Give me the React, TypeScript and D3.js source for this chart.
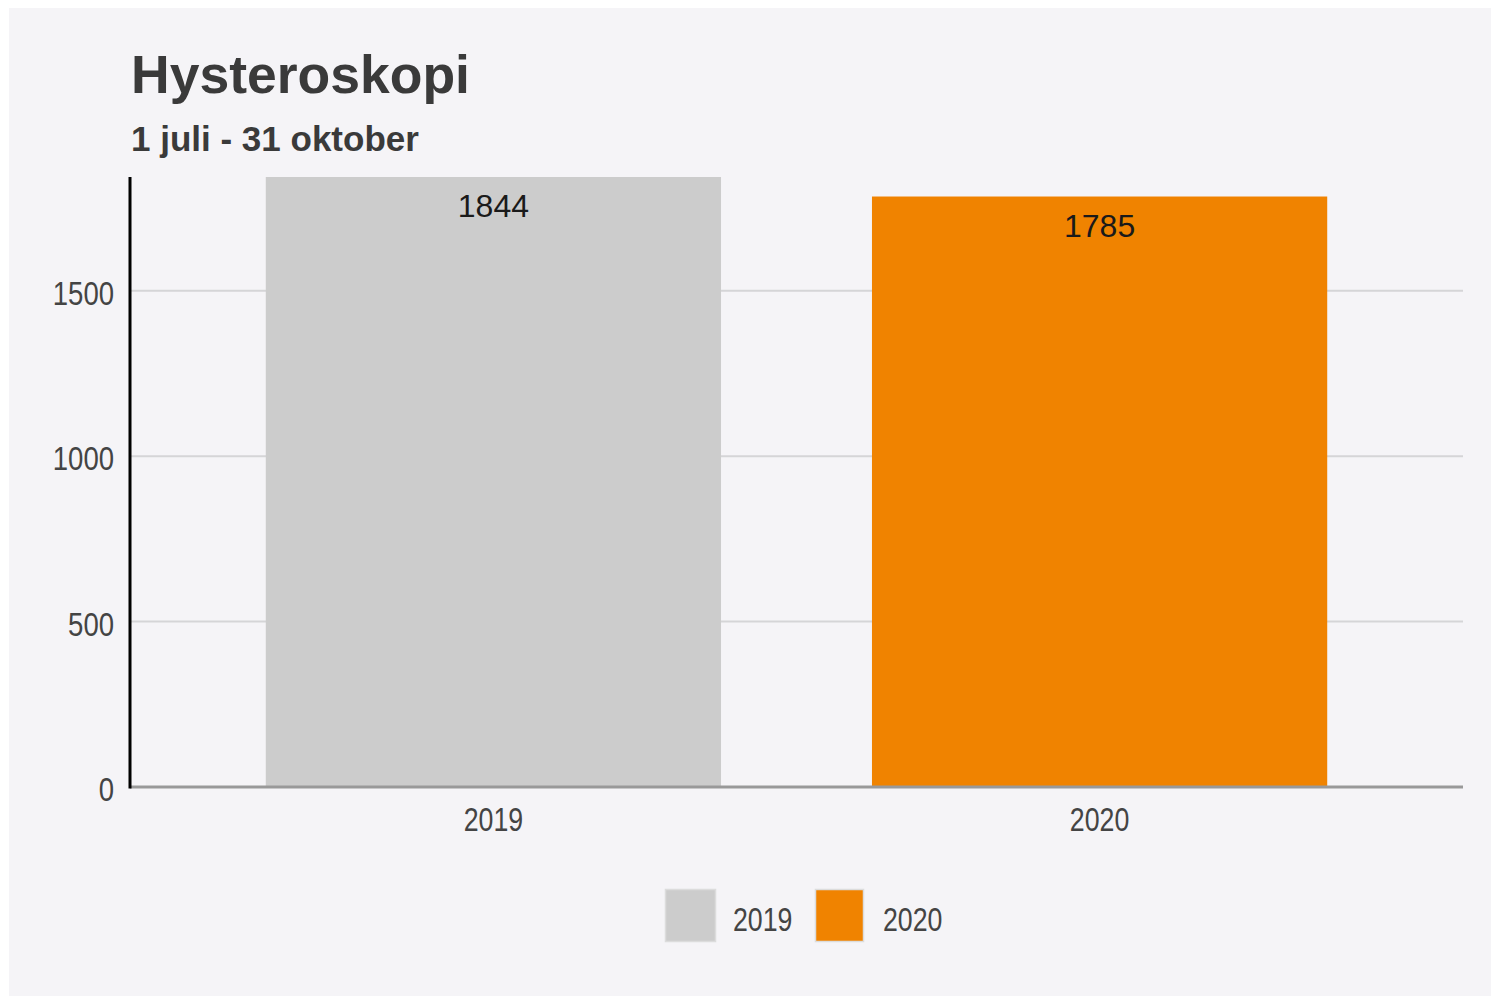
import React from "react";
import * as d3 from "d3";

const categories = ["2019", "2020"];
const values = [1844, 1785];
const barColors = ["#cccccc", "#f08300"];
const yTicks = [0, 500, 1000, 1500];
const legendLabels = ["2019", "2020"];
const title = "Hysteroskopi";
const subtitle = "1 juli - 31 oktober";

const W = 1491;
const H = 997;
const plot = { left: 130, right: 1463, top: 177, bottom: 787 };
const SQ = 0.81;

export default function App() {
  const x = d3
    .scaleBand<string>()
    .domain(categories)
    .range([plot.left, plot.right])
    .paddingInner(0.249)
    .paddingOuter(0.224);
  const y = d3
    .scaleLinear()
    .domain([0, d3.max(values) as number])
    .range([plot.bottom, plot.top]);

  const sans = "'Liberation Sans', Arial, sans-serif";

  return (
    <svg
      width={W}
      height={H}
      style={{ position: "absolute", left: 0, top: 0, display: "block" }}
    >
      <rect x={0} y={0} width={W} height={H} fill="#ffffff" />
      <rect x={9} y={8} width={1482} height={988} fill="#f5f4f7" />
      <text x={131} y={93} fontFamily={sans} fontWeight="bold" fontSize={53.5} fill="#3a3a3a">
        {title}
      </text>
      <text x={131} y={151} fontFamily={sans} fontWeight="bold" fontSize={35} fill="#3a3a3a">
        {subtitle}
      </text>
      {yTicks
        .filter((t) => t !== 0)
        .map((t) => (
          <line
            key={"g" + t}
            x1={plot.left}
            x2={plot.right}
            y1={y(t)}
            y2={y(t)}
            stroke="#d5d5d7"
            strokeWidth={2}
          />
        ))}
      {categories.map((c, i) => (
        <rect
          key={"b" + c}
          x={x(c)}
          y={y(values[i])}
          width={x.bandwidth()}
          height={plot.bottom - y(values[i])}
          fill={barColors[i]}
        />
      ))}
      {categories.map((c, i) => (
        <text
          key={"v" + c}
          x={(x(c) as number) + x.bandwidth() / 2}
          y={y(values[i]) + 40}
          textAnchor="middle"
          fontFamily={sans}
          fontSize={32}
          fill="#1a1a1a"
        >
          {values[i]}
        </text>
      ))}
      <line x1={plot.left} x2={plot.right} y1={plot.bottom} y2={plot.bottom} stroke="#999999" strokeWidth={3} />
      <line x1={plot.left} x2={plot.left} y1={plot.top} y2={plot.bottom + 1.5} stroke="#000000" strokeWidth={3} />
      {yTicks.map((t) => (
        <g key={"t" + t} transform={`translate(114,${y(t) + 14}) scale(${SQ},1)`}>
          <text x={0} y={0} textAnchor="end" fontFamily={sans} fontSize={34} fill="#444444">
            {t}
          </text>
        </g>
      ))}
      {categories.map((c) => (
        <g
          key={"x" + c}
          transform={`translate(${(x(c) as number) + x.bandwidth() / 2},831) scale(${SQ},1)`}
        >
          <text x={0} y={0} textAnchor="middle" fontFamily={sans} fontSize={33} fill="#444444">
            {c}
          </text>
        </g>
      ))}
      {legendLabels.map((l, i) => {
        const sx = i === 0 ? 665 : 815;
        return (
          <g key={"l" + l}>
            <rect
              x={sx + 0.5}
              y={889.5}
              width={i === 0 ? 50 : 48}
              height={52}
              fill={barColors[i]}
              stroke="#dcdcdc"
              strokeWidth={1.5}
            />
            <g transform={`translate(${sx + 68},931) scale(${SQ},1)`}>
              <text x={0} y={0} fontFamily={sans} fontSize={33} fill="#444444">
                {l}
              </text>
            </g>
          </g>
        );
      })}
    </svg>
  );
}
